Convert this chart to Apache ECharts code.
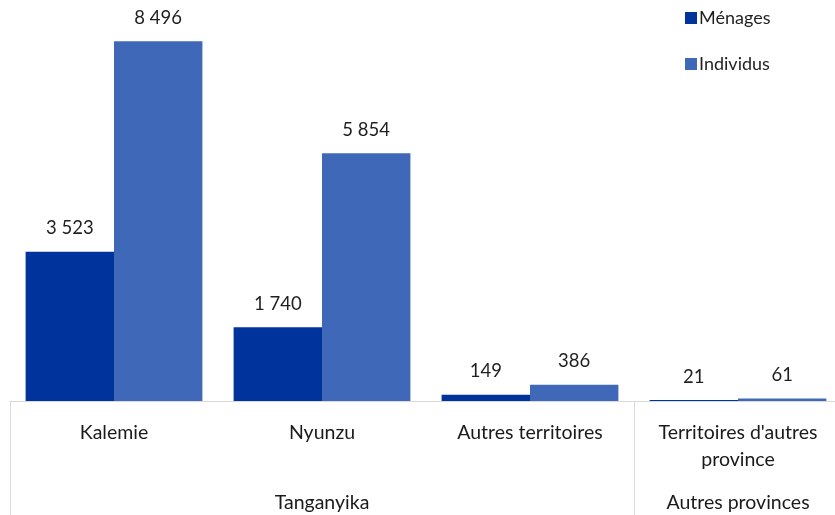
<!DOCTYPE html>
<html><head><meta charset="utf-8">
<script src="https://cdn.jsdelivr.net/npm/echarts@6/dist/echarts.min.js"></script>
<style>html,body{margin:0;padding:0;background:#fff;overflow:hidden}#c{width:842px;height:515px}</style>
</head><body><div id="c"></div>
<script>
const categories = ["Kalemie", "Nyunzu", "Autres territoires", "Territoires d'autres\nprovince"];
const groups = ["Tanganyika", "Autres provinces"];
const groupCenters = [1.5, 3.5];
const groupBounds = [0, 3, 4];
const menages = [3523, 1740, 149, 21];
const individus = [8496, 5854, 386, 61];
const seriesNames = ["Ménages", "Individus"];

const fmt = v => String(v).replace(/\B(?=(\d{3})+(?!\d))/g, ' ');
const font = "Lato";
const chart = echarts.init(document.getElementById('c'));
const labelCfg = {show: true, position: 'top', distance: 14, fontFamily: font, fontSize: 18.5, color: '#1f1f1f', formatter: p => fmt(p.value)};
chart.setOption({
  animation: false,
  textStyle: {fontFamily: font},
  legend: {
    orient: 'vertical', left: 680, top: 3, itemWidth: 12, itemHeight: 12, itemGap: 26,
    icon: 'rect', data: seriesNames,
    textStyle: {fontFamily: font, fontSize: 18, color: '#1f1f1f', lineHeight: 20, padding: [0, 0, 0, -3]}
  },
  grid: {left: 10, top: 20, right: 0, bottom: 114, containLabel: false},
  xAxis: [{
    type: 'category', data: categories,
    axisLine: {show: true, lineStyle: {color: '#d9d9d9', width: 1}},
    axisTick: {show: false},
    axisLabel: {interval: 0, margin: 18, fontFamily: font, fontSize: 19.5, lineHeight: 27, color: '#1a1a1a'}
  }, {
    type: 'value', min: 0, max: 4, position: 'bottom',
    axisLine: {show: false},
    splitLine: {show: false},
    axisTick: {show: true, customValues: groupBounds, length: 114, lineStyle: {color: '#d9d9d9'}},
    axisLabel: {customValues: groupCenters, margin: 92, fontFamily: font, fontSize: 19.5, color: '#1a1a1a',
      formatter: v => groups[groupCenters.indexOf(v)]}
  }],
  yAxis: {type: 'value', min: 0, max: 9000, show: false, splitLine: {show: false}},
  series: [
    {name: seriesNames[0], type: 'bar', data: menages, barGap: '0%', barCategoryGap: '15%',
     itemStyle: {color: '#00339C'}, label: labelCfg},
    {name: seriesNames[1], type: 'bar', data: individus, barGap: '0%', barCategoryGap: '15%',
     itemStyle: {color: '#4068B8'}, label: labelCfg}
  ]
});
</script></body></html>
